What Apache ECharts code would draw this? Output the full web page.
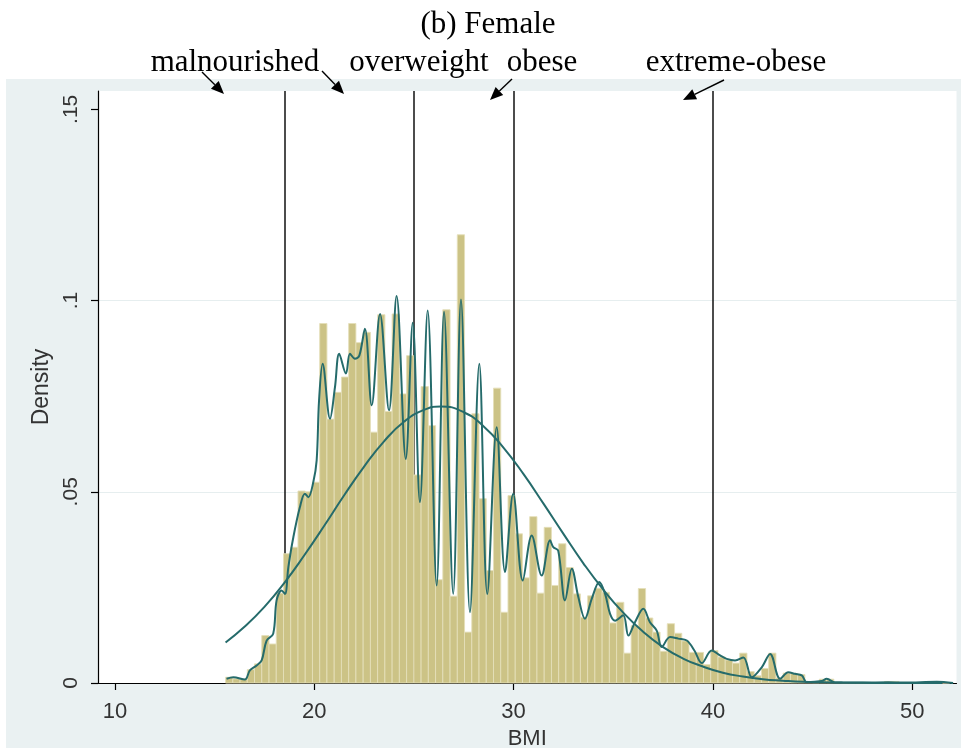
<!DOCTYPE html>
<html><head><meta charset="utf-8">
<script src="https://cdn.jsdelivr.net/npm/echarts@6/dist/echarts.min.js"></script>
<style>html,body{margin:0;padding:0;background:#fff}#c{width:961px;height:748px}</style>
</head><body><div id="c"></div>
<script>
// Histogram bins (BMI)
const binStart = 15.55;
const binWidth = 0.3633;
const binHeights = [
  0.0015,0.0011,0.0010,0.0035,0.0050,0.0124,0.0102,0.0235,0.0338,0.0355,
  0.0502,0.0500,0.0525,0.0940,0.0690,0.0760,0.0800,0.0940,0.0890,0.0917,
  0.0656,0.0963,0.0710,0.0965,0.0756,0.0856,0.0544,0.0775,0.0673,0.0270,
  0.0976,0.0227,0.1172,0.0133,0.0704,0.0482,0.0294,0.0771,0.0185,0.0490,
  0.0390,0.0275,0.0435,0.0235,0.0407,0.0255,0.0364,0.0302,0.0233,0.0172,
  0.0228,0.0248,0.0237,0.0157,0.0211,0.0078,0.0150,0.0247,0.0170,0.0133,
  0.0083,0.0155,0.0130,0.0110,0.0080,0.0080,0.0048,0.0085,0.0068,0.0060,
  0.0052,0.0078,0.0030,0.0019,0.0038,0.0078,0.0013,0.0026,0.0025,0.0022,
  0.0003,0.0001,0.0010,0.0010,0.0002,0.0001,0.0001,0.0001,0.0001,0.0000,
  0.0001,0.0004,0.0004,0.0001,0.0000,0.0000,0.0001,0.0000,0.0003,0.0000
];
// Kernel density curve (BMI, density)
const kdX = [15.60,15.94,16.52,16.77,17.11,17.36,17.61,17.94,18.11,18.36,18.53,18.70,18.95,19.28,19.53,19.70,19.95,20.12,20.24,20.42,
  20.79,21.04,21.25,21.59,21.79,22.04,22.26,22.54,22.88,23.30,23.75,24.13,24.59,24.94,25.30,25.69,26.14,26.51,26.97,27.36,
  27.81,28.28,28.68,29.15,29.57,29.98,30.46,30.91,31.41,31.83,31.99,32.24,32.58,32.92,33.25,33.58,33.92,34.30,34.59,34.84,
  35.09,35.50,35.76,36.09,36.51,36.84,37.18,37.43,37.85,38.26,38.69,39.07,39.44,39.94,40.36,40.69,41.11,41.53,41.95,42.45,
  42.87,43.37,43.78,44.12,44.46,44.71,45.46,45.71,46.13,47.50,48.80,49.60,51.23,52.05];
const kdY = [0.0011,0.0015,0.0009,0.0033,0.0046,0.0059,0.0111,0.0129,0.0216,0.0242,0.0233,0.0303,0.0381,0.0460,0.0495,0.0486,0.0525,0.0582,0.0739,0.0835,
  0.0691,0.0774,0.0861,0.0809,0.0861,0.0848,0.0856,0.0926,0.0726,0.0965,0.0713,0.1012,0.0586,0.0942,0.0473,0.0974,0.0255,0.0971,0.0233,0.1003,
  0.0185,0.0835,0.0233,0.0669,0.0290,0.0495,0.0268,0.0386,0.0281,0.0373,0.0355,0.0346,0.0216,0.0299,0.0224,0.0168,0.0220,0.0264,0.0233,0.0181,
  0.0163,0.0177,0.0124,0.0159,0.0194,0.0159,0.0137,0.0094,0.0120,0.0116,0.0111,0.0085,0.0052,0.0085,0.0072,0.0063,0.0059,0.0067,0.0015,0.0041,
  0.0076,0.0011,0.0028,0.0024,0.0020,0.0002,0.0005,0.0011,0.0001,0.0001,0.0002,0.0001,0.0003,0.0000];
// Normal density curve (BMI, density)
const normX = [15.55,16.5,17.5,18.5,19.5,20.5,21.5,22.5,23.5,24.5,25.5,26.36,27.5,28.5,29.5,30.5,31.5,32.5,33.5,34.5,35.5,36.5,37.5,38.5,39.5,40.5,41.5,42.5,43.5,44.5,45.5,46.5,47.5,48.5,49.5,50.5,51.5];
const normY = [0.0106,0.0147,0.0199,0.0262,0.0334,0.0411,0.0491,0.0566,0.0632,0.0683,0.0714,0.0723,0.0708,0.0671,0.0615,0.0546,0.0469,0.0390,0.0313,0.0244,0.0184,0.0134,0.0094,0.0064,0.0043,0.0027,0.0017,0.0010,0.0006,0.0003,0.0002,0.0001,0.00005,0.00002,0.00001,0,0];
const xTicks = [10,20,30,40,50];
const yTicks = [0,0.05,0.1,0.15];
const gridValues = [0.05,0.1];
const cutoffs = [18.5,25,30,40];
const cutoffLabels = ['malnourished','overweight','obese','extreme-obese'];
const titleText = '(b) Female';

const chart = echarts.init(document.getElementById('c'), null, {renderer:'canvas'});
const barColor = '#CCC386', barEdge = '#E4DFB9', lineColor = '#256B6B';
const histData = binHeights.map((h,i)=>[binStart+i*binWidth, binStart+(i+1)*binWidth, h]);

// annotation layout (pixels)
const labelPos = [[235,63],[419,63],[542,63],[736,63]];
const arrowPos = [[[202,72],[224,94]],[[322,71],[344,94]],[[512,79],[490,100]],[[724,80],[683,100]]];
function arrow(p, q){
  const dx=q[0]-p[0], dy=q[1]-p[1], L=Math.hypot(dx,dy), ux=dx/L, uy=dy/L;
  const hl=13, hw=5.5, bx=q[0]-ux*hl, by=q[1]-uy*hl;
  return [
    {type:'line', z:100, shape:{x1:p[0],y1:p[1],x2:bx,y2:by}, style:{stroke:'#000',lineWidth:1.4}},
    {type:'polygon', z:100, shape:{points:[[q[0],q[1]],[bx-uy*hw,by+ux*hw],[bx+uy*hw,by-ux*hw]]}, style:{fill:'#000'}}
  ];
}
const graphics = [
  {type:'rect', z:-100, silent:true, shape:{x:6,y:79,width:955,height:669}, style:{fill:'#EAF1F2'}},
  {type:'text', z:100, style:{x:488,y:25,text:titleText,font:'31px "Liberation Serif"',fill:'#000',textAlign:'center',textVerticalAlign:'middle'}}
];
cutoffLabels.forEach((t,i)=>{
  graphics.push({type:'text', z:100, style:{x:labelPos[i][0],y:labelPos[i][1],text:t,font:'31px "Liberation Serif"',fill:'#000',textAlign:'center',textVerticalAlign:'middle'}});
  graphics.push(...arrow(arrowPos[i][0], arrowPos[i][1]));
});

const fmtY = v => v===0 ? '0' : String(+v.toFixed(2)).replace(/^0/,'');
chart.setOption({
  animation:false,
  backgroundColor:'#fff',
  graphic: graphics,
  grid:{left:98,right:4.5,top:91,bottom:65,show:true,backgroundColor:'#fff',borderWidth:0,outerBoundsMode:'none',containLabel:false},
  xAxis:{type:'value',min:9.15,max:52.22,
    name:'BMI',nameLocation:'middle',nameGap:44,
    nameTextStyle:{fontFamily:'Liberation Sans',fontSize:22,color:'#333'},
    axisLine:{show:true,lineStyle:{color:'#000',width:1.2}},
    axisTick:{show:true,length:7,customValues:xTicks,lineStyle:{color:'#000',width:1.2}},
    axisLabel:{customValues:xTicks,margin:18,fontFamily:'Liberation Sans',fontSize:22,color:'#333'},
    splitLine:{show:false}},
  yAxis:{type:'value',min:0,max:0.1548,
    name:'Density',nameLocation:'middle',nameGap:45,nameRotate:90,
    nameTextStyle:{fontFamily:'Liberation Sans',fontSize:23,color:'#333'},
    axisLine:{show:true,lineStyle:{color:'#000',width:1.2}},
    axisTick:{show:true,length:7,customValues:yTicks,lineStyle:{color:'#000',width:1.2}},
    axisLabel:{customValues:yTicks,rotate:90,margin:16,fontFamily:'Liberation Sans',fontSize:21,color:'#333',formatter:fmtY},
    splitLine:{show:false}},
  series:[
    {type:'line',data:[],z:1,silent:true,
      markLine:{z:0,silent:true,symbol:'none',label:{show:false},animation:false,
        lineStyle:{color:'#E6EEEF',width:1.2,type:'solid'},
        data:gridValues.map(v=>({yAxis:v}))}},
    {type:'line',data:[],z:1,silent:true,
      markLine:{z:1,silent:true,symbol:'none',label:{show:false},animation:false,
        lineStyle:{color:'#111',width:1.5,type:'solid'},
        data:cutoffs.map(v=>({xAxis:v}))}},
    {type:'custom',z:2,data:histData,encode:{x:[0,1],y:2},
      renderItem:(params,api)=>{
        const a=api.coord([api.value(0),api.value(2)]);
        const b=api.coord([api.value(1),0]);
        return {type:'rect',shape:{x:a[0],y:a[1],width:b[0]-a[0],height:b[1]-a[1]},
          style:{fill:barColor,stroke:barEdge,lineWidth:0.9}};
      }},
    {type:'line',z:3,data:normX.map((x,i)=>[x,normY[i]]),smooth:true,symbol:'none',
      lineStyle:{color:lineColor,width:2}},
    {type:'line',z:4,data:kdX.map((x,i)=>[x,kdY[i]]),smooth:0.35,symbol:'none',
      lineStyle:{color:lineColor,width:2}}
  ]
});
</script></body></html>
